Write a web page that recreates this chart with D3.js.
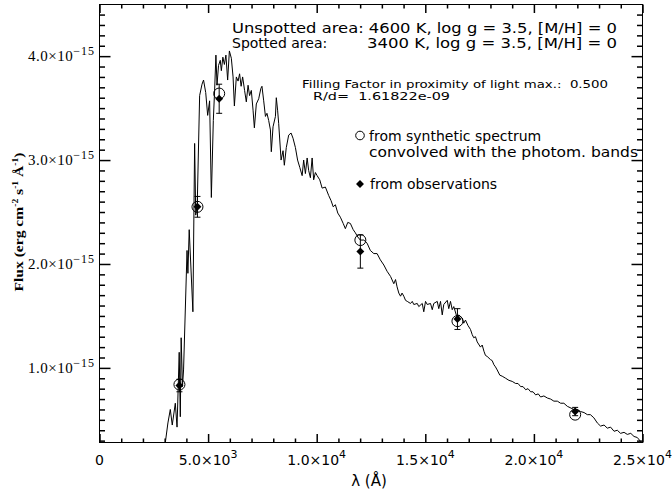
<!DOCTYPE html>
<meta charset="utf-8">
<style>
body { margin: 0; background: #fff; }
svg { display: block; }
.spec { fill: none; stroke: #000; stroke-width: 1px; stroke-linejoin: round; }
.sym { fill: none; stroke: #000; stroke-width: 1px; }
.err { stroke: #000; stroke-width: 1px; }
.ax .domain { stroke: none; }
.ax .tick line { stroke: #000; stroke-width: 1.5px; }
text { fill: #000; white-space: pre; }
.sans { font-family: "DejaVu Sans", sans-serif; }
.serif { font-family: "Liberation Serif", serif; }
</style>
<svg width="672" height="493"></svg>
<script src="https://cdn.jsdelivr.net/npm/d3@7/dist/d3.min.js"></script>
<script>

// spectrum: wavelength (A) and flux (1e-15 erg cm-2 s-1 A-1)
var specWave = [2960, 3030, 3150, 3260, 3350, 3490, 3570, 3670, 3720, 3760, 3820, 3870,
  4030, 4070, 4130, 4300, 4380, 4430, 4500, 4610, 4720, 4790, 4890, 4980, 5070, 5150,
  5240, 5300, 5360, 5410, 5480, 5560, 5610, 5680, 5750, 5820, 5900, 5980, 6070, 6150,
  6210, 6300, 6380, 6450, 6520, 6590, 6680, 6760, 6840, 6910, 6990, 7070, 7130, 7220,
  7330, 7430, 7480, 7560, 7640, 7710, 7790, 7870, 7910, 7990, 8100, 8140, 8200, 8250,
  8360, 8450, 8510, 8600, 8710, 8820, 8910, 9020, 9120, 9220, 9330, 9400, 9480, 9560,
  9630, 9710, 9790, 9860, 9940, 10020, 10140, 10250, 10400, 10550, 10660, 10760, 10860,
  10970, 11090, 11220, 11320, 11430, 11550, 11680, 11780, 11890, 12010, 12170, 12320,
  12470, 12630, 12780, 12930, 13090, 13240, 13400, 13550, 13630, 13700, 13780, 13860,
  13930, 14010, 14090, 14170, 14320, 14400, 14470, 14630, 14700, 14860, 14930, 15010,
  15090, 15240, 15320, 15390, 15550, 15620, 15700, 15780, 15850, 16010, 16080, 16160,
  16240, 16310, 16470, 16540, 16700, 16770, 16850, 16960, 17080, 17160, 17230, 17310,
  17390, 17540, 17620, 17700, 17770, 17850, 18000, 18080, 18160, 18230, 18310, 18430,
  18540, 18700, 18850, 19000, 19160, 19270, 19390, 19500, 19620, 19730, 19850, 19960,
  20080, 20200, 20310, 20460, 20620, 20770, 20920, 21080, 21230, 21380, 21540, 21840,
  22000, 22150, 22310, 22460, 22600, 22760, 22920, 23070, 23230, 23380, 23530, 23690,
  23840, 23990, 24150, 24300, 24460, 24610, 24760, 24920, 25150];
var specFlux = [0.12, 0.28, 0.47, 0.60, 0.45, 0.66, 0.43, 1.15, 0.53, 1.29, 0.82, 0.98,
  2.13, 1.91, 2.33, 1.54, 3.16, 2.47, 2.57, 3.62, 3.73, 3.77, 3.65, 3.43, 3.57, 2.64,
  3.38, 3.67, 4.01, 3.72, 3.91, 3.96, 3.86, 3.99, 3.92, 4.01, 3.77, 4.05, 3.98, 3.80,
  3.52, 3.80, 3.76, 3.83, 3.71, 3.80, 3.67, 3.56, 3.72, 3.62, 3.67, 3.48, 3.31, 3.54,
  3.59, 3.69, 3.71, 3.57, 3.42, 3.45, 3.38, 3.29, 3.08, 3.32, 3.42, 3.60, 3.48, 3.35,
  3.00, 3.09, 2.95, 3.12, 3.24, 3.26, 3.21, 3.12, 3.00, 2.93, 2.85, 3.00, 2.87, 3.02,
  2.90, 2.83, 3.02, 2.81, 2.88, 2.85, 2.81, 2.73, 2.74, 2.66, 2.61, 2.55, 2.57,
  2.49, 2.45, 2.39, 2.34, 2.40, 2.39, 2.33, 2.30, 2.26, 2.23, 2.23, 2.20,
  2.13, 2.10, 2.10, 2.04, 1.99, 1.93, 1.88, 1.81, 1.85, 1.78, 1.72, 1.69,
  1.72, 1.69, 1.65, 1.64, 1.62, 1.64, 1.61, 1.62, 1.59, 1.62, 1.54, 1.64,
  1.61, 1.62, 1.56, 1.62, 1.64, 1.57, 1.64, 1.51, 1.61, 1.65, 1.57, 1.64,
  1.56, 1.59, 1.48, 1.51, 1.48, 1.43, 1.46, 1.41, 1.37, 1.32, 1.29, 1.30,
  1.25, 1.20, 1.22, 1.16, 1.12, 1.11, 1.08, 1.07, 1.03, 1.01, 0.98, 0.93,
  0.92, 0.90, 0.88, 0.87, 0.85, 0.85, 0.82, 0.82, 0.79, 0.80, 0.77, 0.77,
  0.74, 0.75, 0.72, 0.73, 0.71, 0.70, 0.68, 0.68, 0.66, 0.66, 0.63, 0.60,
  0.60, 0.58, 0.57, 0.55, 0.55, 0.52, 0.47, 0.44, 0.45, 0.42, 0.43, 0.39,
  0.40, 0.37, 0.38, 0.36, 0.37, 0.34, 0.33, 0.29, 0.24];

// photometric bands
var bandWave  = [3680, 4510, 5510, 12010, 16480, 21900];
var synthFlux = [0.84, 2.55, 3.64, 2.23, 1.45, 0.55];
var obsFlux   = [0.83, 2.55, 3.59, 2.12, 1.47, 0.58];
var obsErr    = [0.06, 0.10, 0.14, 0.16, 0.10, 0.04];

// axes
var xMajor = [0, 5000, 10000, 15000, 20000, 25000];
var xTickLabels = [["0", ""], ["5.0\u00d710", "3"], ["1.0\u00d710", "4"], ["1.5\u00d710", "4"], ["2.0\u00d710", "4"], ["2.5\u00d710", "4"]];
var yMajor = [1, 2, 3, 4];
var yTickLabels = [["1.0\u00d710", "\u221215"], ["2.0\u00d710", "\u221215"], ["3.0\u00d710", "\u221215"], ["4.0\u00d710", "\u221215"]];

var svg = d3.select("svg");
var pLeft = 99.5, pRight = 642.5, pTop = 4.5, pBottom = 442.5;

var x = d3.scaleLinear().domain([0, 25000]).range([pLeft, pRight]);
var y = d3.scaleLinear().domain([0.282, 4.497]).range([pBottom, pTop]);

var xMinor = [];
for (var v = 1000; v < 25000; v += 1000) if (v % 5000 !== 0) xMinor.push(v);
var yMinor = [];
for (var k = 3; k < 45; k++) if (k % 10 !== 0) yMinor.push(k / 10);

// frame
svg.append("rect")
    .attr("x", pLeft).attr("y", pTop).attr("width", pRight - pLeft).attr("height", pBottom - pTop)
    .attr("fill", "none").attr("stroke", "#000").attr("stroke-width", 1);

// x tick labels
var xl = svg.append("g").attr("class", "sans").selectAll("text")
    .data(xMajor).enter().append("text")
    .attr("x", function(d) { return x(d); })
    .attr("y", 465)
    .attr("text-anchor", "middle")
    .style("font-size", "14px");
xl.append("tspan").text(function(d, i) { return xTickLabels[i][0]; });
xl.append("tspan").attr("dy", -7).style("font-size", "11px").text(function(d, i) { return xTickLabels[i][1]; });

// y tick labels
var yl = svg.append("g").attr("class", "serif").selectAll("text")
    .data(yMajor).enter().append("text")
    .attr("x", 95)
    .attr("y", function(d) { return y(d) + 5; })
    .attr("text-anchor", "end")
    .style("font-size", "15px")
    .style("letter-spacing", "0.5px");
yl.append("tspan").text(function(d, i) { return yTickLabels[i][0]; });
yl.append("tspan").attr("dy", -6).style("font-size", "12px").style("letter-spacing", "1px")
    .text(function(d, i) { return yTickLabels[i][1]; });

// axis titles
svg.append("text").attr("class", "sans")
    .attr("x", 369).attr("y", 486).attr("text-anchor", "middle")
    .style("font-size", "15px").text("\u03bb (\u00c5)");

var yt = svg.append("text").attr("class", "serif")
    .attr("transform", "translate(23,222) rotate(-90)")
    .attr("text-anchor", "middle")
    .attr("textLength", 139).attr("lengthAdjust", "spacingAndGlyphs")
    .style("font-size", "13px").style("font-weight", "bold");
yt.append("tspan").text("Flux (erg cm");
yt.append("tspan").attr("dy", -5).style("font-size", "8px").text("-2");
yt.append("tspan").attr("dy", 5).text(" s");
yt.append("tspan").attr("dy", -5).style("font-size", "8px").text("-1");
yt.append("tspan").attr("dy", 5).text(" \u00c5");
yt.append("tspan").attr("dy", -5).style("font-size", "8px").text("-1");
yt.append("tspan").attr("dy", 5).text(")");

// spectrum
svg.append("clipPath").attr("id", "clip").append("rect")
    .attr("x", pLeft).attr("y", pTop).attr("width", pRight - pLeft).attr("height", pBottom - pTop);

var line = d3.line()
    .x(function(d) { return x(d[0]); })
    .y(function(d) { return y(d[1]); });

svg.append("path").attr("class", "spec").attr("clip-path", "url(#clip)")
    .attr("d", line(d3.zip(specWave, specFlux)));

// observations: diamonds with error bars
var bands = d3.range(bandWave.length);
var errG = svg.append("g");
bands.forEach(function(i) {
  var cx = x(bandWave[i]), y1 = y(obsFlux[i] + obsErr[i]), y2 = y(obsFlux[i] - obsErr[i]);
  errG.append("line").attr("class", "err").attr("x1", cx).attr("x2", cx).attr("y1", y1).attr("y2", y2);
  errG.append("line").attr("class", "err").attr("x1", cx - 3).attr("x2", cx + 3).attr("y1", y1).attr("y2", y1);
  errG.append("line").attr("class", "err").attr("x1", cx - 3).attr("x2", cx + 3).attr("y1", y2).attr("y2", y2);
});

var diamond = d3.symbol().type(d3.symbolDiamond2).size(40);
svg.append("g").selectAll("path").data(bands).enter().append("path")
    .attr("transform", function(i) { return "translate(" + x(bandWave[i]) + "," + y(obsFlux[i]) + ")"; })
    .attr("d", diamond).attr("fill", "#000");

// synthetic: open circles
svg.append("g").selectAll("circle").data(bands).enter().append("circle")
    .attr("class", "sym")
    .attr("cx", function(i) { return x(bandWave[i]); })
    .attr("cy", function(i) { return y(synthFlux[i]); })
    .attr("r", 5.5);

// annotations
var note = svg.append("g").attr("class", "sans");
note.append("text").attr("x", 232).attr("y", 33).style("font-size", "14px")
    .attr("textLength", 385).attr("lengthAdjust", "spacingAndGlyphs")
    .text("Unspotted area: 4600 K, log g = 3.5, [M/H] = 0");
note.append("text").attr("x", 232).attr("y", 48).style("font-size", "14px")
    .text("Spotted area:");
note.append("text").attr("x", 617).attr("y", 48).style("font-size", "14px")
    .attr("text-anchor", "end")
    .attr("textLength", 250).attr("lengthAdjust", "spacingAndGlyphs")
    .text("3400 K, log g = 3.5, [M/H] = 0");
note.append("text").attr("x", 302).attr("y", 88).style("font-size", "11px")
    .attr("textLength", 306).attr("lengthAdjust", "spacingAndGlyphs")
    .text("Filling Factor in proximity of light max.:  0.500");
note.append("text").attr("x", 313).attr("y", 100).style("font-size", "11px")
    .attr("textLength", 137).attr("lengthAdjust", "spacingAndGlyphs")
    .text("R/d=  1.61822e-09");

note.append("circle").attr("class", "sym").attr("cx", 360).attr("cy", 135.5).attr("r", 4.3);
note.append("text").attr("x", 369).attr("y", 140.5).style("font-size", "14px")
    .text("from synthetic spectrum");
note.append("text").attr("x", 369).attr("y", 157).style("font-size", "14px")
    .attr("textLength", 269).attr("lengthAdjust", "spacingAndGlyphs")
    .text("convolved with the photom. bands");
note.append("path").attr("transform", "translate(360,184)").attr("d", diamond).attr("fill", "#000");
note.append("text").attr("x", 370).attr("y", 188.5).style("font-size", "14px")
    .text("from observations");

// inward ticks on all four sides, drawn last with d3 axes
function addAxis(axis, tr) {
  svg.append("g").attr("class", "ax").attr("transform", tr).call(axis)
    .selectAll(".tick line").attr("stroke", "#000").attr("stroke-width", 1.5);
}
var noLab = function() { return ""; };
var sides = [
  [d3.axisBottom, x, "translate(0," + pBottom + ")", xMinor, xMajor, 4, 8.5],
  [d3.axisTop, x, "translate(0," + pTop + ")", xMinor, xMajor, 4, 8.5],
  [d3.axisLeft, y, "translate(" + pLeft + ",0)", yMinor, yMajor, 5.5, 11],
  [d3.axisRight, y, "translate(" + pRight + ",0)", yMinor, yMajor, 5.5, 11]
];
sides.forEach(function(s) {
  addAxis(s[0](s[1]).tickValues(s[3]).tickSizeInner(-s[5]).tickSizeOuter(0).tickFormat(noLab), s[2]);
  addAxis(s[0](s[1]).tickValues(s[4]).tickSizeInner(-s[6]).tickSizeOuter(0).tickFormat(noLab), s[2]);
});

</script>
